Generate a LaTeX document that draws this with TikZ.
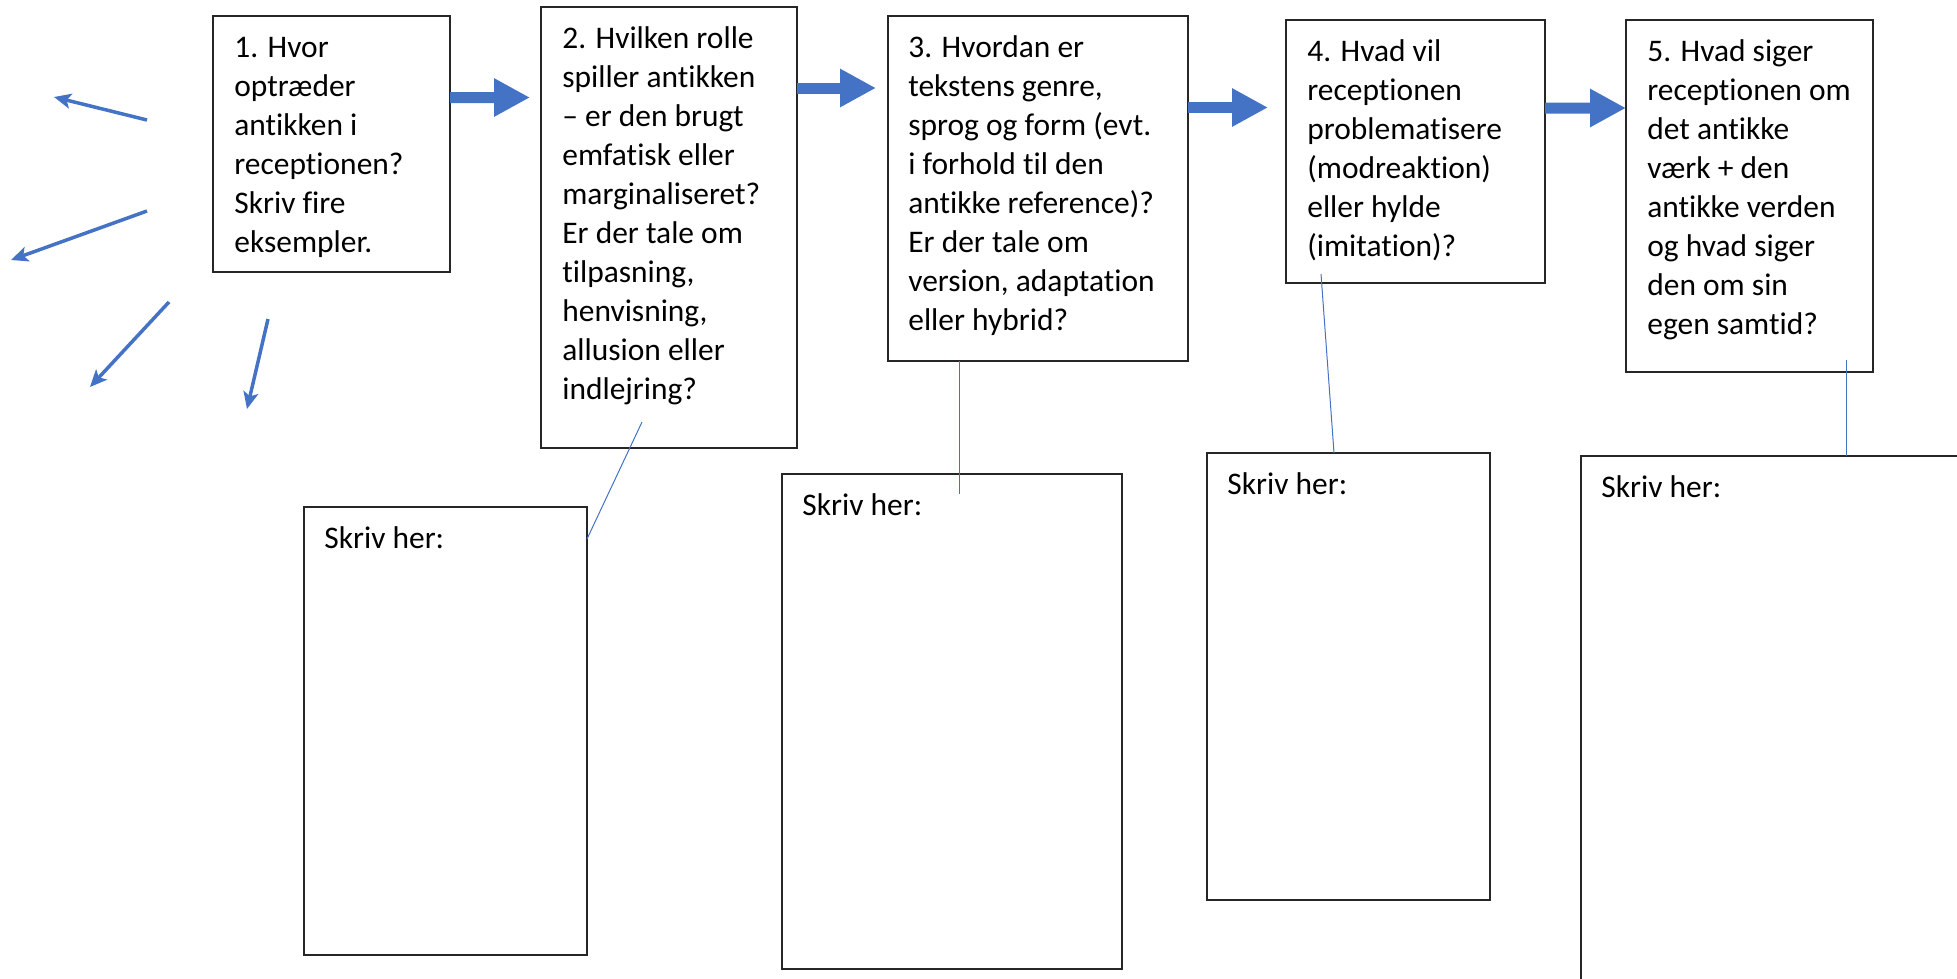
\documentclass[tikz,border=0pt]{standalone}
\usepackage{fontspec}
\setmainfont{Carlito}[RawFeature={-liga;-clig;-dlig;-hlig;-calt;-rlig}]
\usetikzlibrary{arrows.meta,fit}
\definecolor{officeblue}{HTML}{4472C4}
\tikzset{
	qbox/.style={draw=black!85, line width=0.04cm, inner sep=0pt, outer sep=0pt},
	qtext/.style={anchor=north west, inner sep=0pt, align=left,
		font=\fontsize{17.9pt}{22.2pt}\selectfont},
	bigarrow/.style={officeblue, line width=0.22cm, -{Triangle[length=0.72cm, width=0.72cm]}},
	thinarrow/.style={officeblue, line width=0.07cm, -{Stealth[length=0.34cm, width=0.3cm, inset=0.08cm]}},
	link/.style={officeblue, line width=0.02cm}
}
\begin{document}
\begin{tikzpicture}[x=0.02cm, y=-0.02cm]
		\useasboundingbox (0,0) rectangle (1957,978);
		\clip (0,0) rectangle (1957,978);

		\node[qbox, fit={(213,16) (450,272)}] (q1) {};
		\node[qbox, fit={(541,7) (797,448)}] (q2) {};
		\node[qbox, fit={(888,16) (1188,361)}] (q3) {};
		\node[qbox, fit={(1286,20) (1545,283)}] (q4) {};
		\node[qbox, fit={(1626,20) (1873,372)}] (q5) {};

		\node[qtext] (q1txt) at ([shift={(21,13.7)}]q1.north west) {\strut 1. Hvor\\optræder\\antikken i\\receptionen?\\Skriv fire\\eksempler.};
		\node[qtext] (q2txt) at ([shift={(21,13.7)}]q2.north west) {\strut 2. Hvilken rolle\\spiller antikken\\– er den brugt\\emfatisk eller\\marginaliseret?\\Er der tale om\\tilpasning,\\henvisning,\\allusion eller\\indlejring?};
		\node[qtext] (q3txt) at ([shift={(20,13.7)}]q3.north west) {\strut 3. Hvordan er\\tekstens genre,\\sprog og form (evt.\\i forhold til den\\antikke reference)?\\Er der tale om\\version, adaptation\\eller hybrid?};
		\node[qtext] (q4txt) at ([shift={(21,13.7)}]q4.north west) {\strut 4. Hvad vil\\receptionen\\problematisere\\(modreaktion)\\eller hylde\\(imitation)?};
		\node[qtext] (q5txt) at ([shift={(21,13.7)}]q5.north west) {\strut 5. Hvad siger\\receptionen om\\det antikke\\værk + den\\antikke verden\\og hvad siger\\den om sin\\egen samtid?};

		\node[qbox, fit={(304,507) (587,955)}] (a1) {};
		\node[qbox, fit={(782,474) (1122,969)}] (a2) {};
		\node[qbox, fit={(1207,453) (1490,900)}] (a3) {};
		\node[qbox, fit={(1581,456) (2000,1000)}] (a4) {};

		\node[qtext] (a1txt) at ([shift={(20,13.7)}]a1.north west) {\strut Skriv her:};
		\node[qtext] (a2txt) at ([shift={(20,13.7)}]a2.north west) {\strut Skriv her:};
		\node[qtext] (a3txt) at ([shift={(20,13.7)}]a3.north west) {\strut Skriv her:};
		\node[qtext] (a4txt) at ([shift={(20,13.7)}]a4.north west) {\strut Skriv her:};

		\draw[bigarrow] ([shift={(0,81.5)}]q1.north east) -- ([shift={(-11,90.5)}]q2.north west);
		\draw[bigarrow] ([shift={(0,81)}]q2.north east) -- ([shift={(-12,72)}]q3.north west);
		\draw[bigarrow] ([shift={(0,91.5)}]q3.north east) -- ([shift={(-18,87.5)}]q4.north west);
		\draw[bigarrow] ([shift={(0,88)}]q4.north east) -- ([shift={(0,88)}]q5.north west);

		\draw[link] ([shift={(101,-26)}]q2.south west) -- ([shift={(0,32)}]a1.north east);
		\draw[link] ([shift={(71,0)}]q3.south west) -- ([shift={(177,20)}]a2.north west);
		\draw[link] ([shift={(35,-9)}]q4.south west) -- ([shift={(127,0)}]a3.north west);
		\draw[link] ([shift={(220,-12)}]q5.south west) -- ([shift={(265,0)}]a4.north west);

		\draw[thinarrow] (147,120) -- (54,97);
		\draw[thinarrow] (147,211) -- (11,260);
		\draw[thinarrow] (169,302) -- (90,387);
		\draw[thinarrow] (268,319) -- (247,409);
	\end{tikzpicture}
\end{document}
